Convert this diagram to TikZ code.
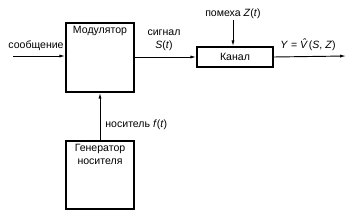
\documentclass[tikz,border=0pt]{standalone}
\usepackage{fontspec}
\setmainfont{Liberation Sans}
\usetikzlibrary{arrows.meta, positioning}
\tikzset{
  blk/.style={draw, line width=1.2pt, minimum width=#1, inner sep=0pt, font=\small},
  blk/.default=2.04cm,
  sig/.style={-{Latex[length=5pt,width=2.6pt]}, line width=0.8pt},
  lbl/.style={font=\small, inner sep=1pt},
}
\begin{document}
\begin{tikzpicture}[x=0.03cm, y=-0.03cm]
  \useasboundingbox (0,0) rectangle (363,222);
  \node[blk, minimum height=2.07cm,
        label={[lbl, anchor=north, yshift=-2pt]north:Модулятор}] (mod) at (100,57.5) {};
  \node[blk, minimum height=2.04cm, align=center,
        label={[lbl, anchor=north, align=center, yshift=-2pt]north:Генератор\\носителя}] (gen) at (100,175) {};
  \node[blk=2.28cm, minimum height=0.6cm] (chan) at (235,57) {Канал};
  \coordinate (msg) at (13,56);
  \coordinate (noise) at (233,20);
  \coordinate (out) at (346,56);
  \draw[sig] (msg) -- (msg -| mod.west);
  \draw[sig] (mod.east |- chan.west) -- (chan.west);
  \draw[sig] (gen.north) -- (mod.south);
  \draw[sig] (noise) -- (noise |- chan.north);
  \draw[sig] (chan.east) -- (out);
  \node[lbl, anchor=south east] at (65,52) {сообщение};
  \node[lbl, anchor=south, align=center] at (164,52) {сигнал\\\textit{S}(\textit{t})};
  \node[lbl, anchor=south] at (noise) {помеха \textit{Z}(\textit{t})};
  \node[lbl, anchor=west] at (104,125) {носитель \textit{f}(\textit{t})};
  \node[lbl, anchor=south] at (308,52) {\textit{Y} = \textit{\^{V}}(\textit{S}, \textit{Z})};
\end{tikzpicture}
\end{document}
